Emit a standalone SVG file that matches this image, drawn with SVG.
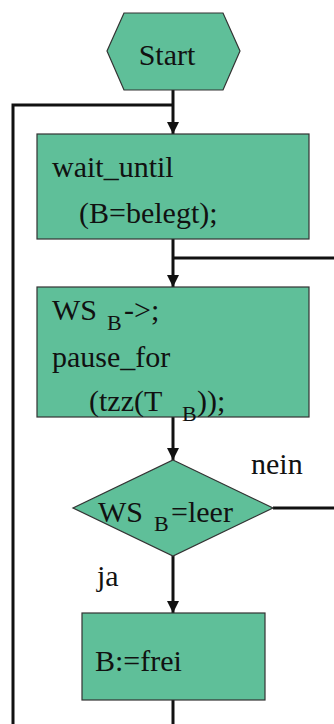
<svg xmlns="http://www.w3.org/2000/svg" width="334" height="724" viewBox="0 0 334 724">
  <style>
    .shape { fill: #5fbf99; stroke: #333; stroke-width: 1.2; }
    .line { fill: none; stroke: #111; stroke-width: 3; }
    text { font-family: "Liberation Serif", "DejaVu Serif", serif; fill: #111; font-size: 30px; }
    .sub { font-size: 22px; }
  </style>
  <defs>
    <marker id="arrow" markerUnits="userSpaceOnUse" markerWidth="12" markerHeight="12" refX="12" refY="6" orient="auto">
      <path d="M0,0 L12,6 L0,12 Z" fill="#111"/>
    </marker>
  </defs>
  <rect width="334" height="724" fill="#fff"/>

  <g id="connectors">
    <polyline class="line" points="13,724 13,105 173,105"/>
    <line class="line" x1="173" y1="90" x2="173" y2="134" marker-end="url(#arrow)"/>
    <line class="line" x1="173" y1="239" x2="173" y2="287" marker-end="url(#arrow)"/>
    <line class="line" x1="173" y1="258" x2="334" y2="258"/>
    <line class="line" x1="173" y1="417" x2="173" y2="460" marker-end="url(#arrow)"/>
    <line class="line" x1="273" y1="508" x2="334" y2="508"/>
    <line class="line" x1="173" y1="556" x2="173" y2="613" marker-end="url(#arrow)"/>
    <line class="line" x1="173" y1="700" x2="173" y2="724"/>
    <text x="251" y="474">nein</text>
    <text x="97" y="586">ja</text>
  </g>

  <g id="start">
    <polygon class="shape" points="107,51 124,13 223,13 240,51 223,90 124,90"/>
    <text x="167" y="65" text-anchor="middle">Start</text>
  </g>

  <g id="wait">
    <rect class="shape" x="37" y="134" width="272" height="105"/>
    <text x="52" y="177">wait_until</text>
    <text x="79" y="223">(B=belegt);</text>
  </g>

  <g id="move">
    <rect class="shape" x="37" y="287" width="272" height="130"/>
    <text x="52" y="320">WS</text>
    <text class="sub" x="107" y="330">B</text>
    <text x="124" y="320">-&gt;;</text>
    <text x="52" y="367">pause_for</text>
    <text x="89" y="411">(tzz(T</text>
    <text class="sub" x="182" y="421">B</text>
    <text x="197" y="411">));</text>
  </g>

  <g id="check">
    <polygon class="shape" points="173,460 273,508 173,556 73,508"/>
    <text x="98" y="522">WS</text>
    <text class="sub" x="154" y="531">B</text>
    <text x="171" y="522">=leer</text>
  </g>

  <g id="free">
    <rect class="shape" x="82" y="613" width="183" height="87"/>
    <text x="95" y="671">B:=frei</text>
  </g>
</svg>
